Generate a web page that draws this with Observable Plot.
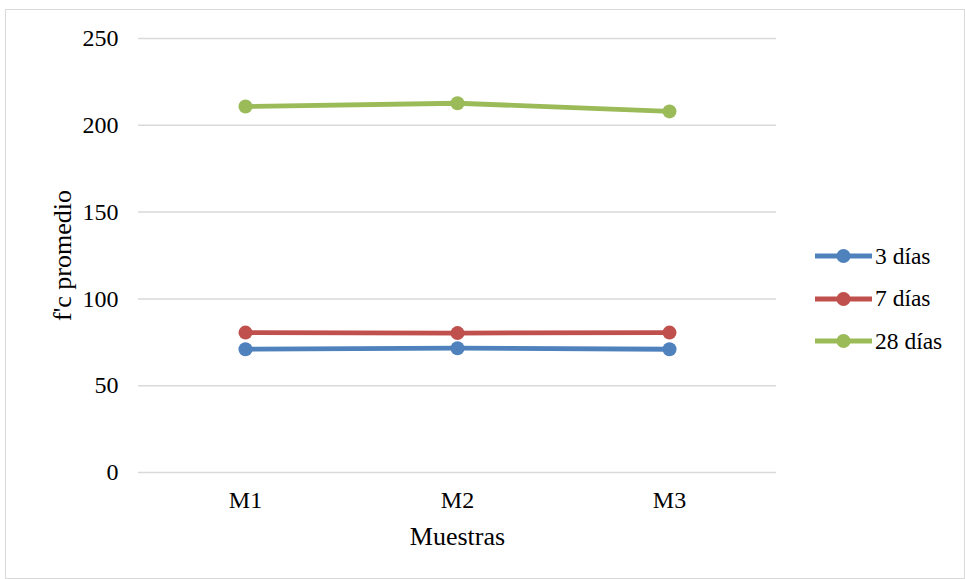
<!DOCTYPE html>
<html>
<head>
<meta charset="utf-8">
<script src="https://cdn.jsdelivr.net/npm/d3@7"></script>
<script src="https://cdn.jsdelivr.net/npm/@observablehq/plot@0.6"></script>
<style>
  html, body { margin: 0; padding: 0; background: #fff; }
  #wrap { position: relative; width: 965px; height: 579px; font-family: "Liberation Serif", "Times New Roman", serif; }
  #frame { position: absolute; left: 5px; top: 9px; width: 958px; height: 568px; border: 1px solid #d9d9d9; }
  #chart { position: absolute; left: 0; top: 0; }
  #legend { position: absolute; left: 815px; top: 235px; font-size: 23.5px; color: #000; }
  .item { display: flex; align-items: center; height: 42.5px; }
  .item svg { margin-right: 2px; }
</style>
</head>
<body>
<div id="wrap">
  <div id="frame"></div>
  <div id="chart"></div>
  <div id="legend"></div>
</div>
<script>
// Muestras y resistencia promedio f'c por edad de curado
const muestras = ["M1", "M2", "M3"];
const series = ["3 días", "7 días", "28 días"];
const colores = ["#4f81bd", "#c0504d", "#9bbb59"];
const fc3 = [71.0, 71.6, 71.0];
const fc7 = [80.6, 80.3, 80.6];
const fc28 = [210.8, 212.7, 208.0];
const yTicks = [0, 50, 100, 150, 200, 250];

const valores = [fc3, fc7, fc28];
const datos = [];
series.forEach((s, i) => muestras.forEach((m, j) => datos.push({serie: s, muestra: m, fc: valores[i][j]})));

const font = "Liberation Serif, Times New Roman, serif";
const fs = 24;   // etiquetas de los ejes
const fsT = 26;  // títulos de los ejes

const chart = Plot.plot({
  width: 965,
  height: 579,
  marginLeft: 138,
  marginRight: 189,
  marginTop: 38,
  marginBottom: 107,
  style: {fontFamily: font, fontSize: fs + "px", color: "#000", background: "transparent"},
  x: {type: "point", domain: muestras, padding: 0.5},
  y: {domain: [0, 250]},
  color: {domain: series, range: colores},
  marks: [
    Plot.gridY(yTicks, {stroke: "#d9d9d9", strokeOpacity: 1, strokeWidth: 1.5}),
    Plot.axisY(yTicks, {tickSize: 0, tickPadding: 20, label: null, fontSize: fs}),
    Plot.axisX({tickSize: 0, tickPadding: 18, label: null, fontSize: fs}),
    Plot.text(["f'c promedio"], {frameAnchor: "left", textAnchor: "middle", dx: -76, rotate: -90, fontSize: fsT, fill: "#000"}),
    Plot.text(["Muestras"], {frameAnchor: "bottom", textAnchor: "middle", dy: 72, fontSize: fsT, fill: "#000"}),
    Plot.line(datos, {x: "muestra", y: "fc", z: "serie", stroke: "serie", strokeWidth: 4.8}),
    Plot.dot(datos, {x: "muestra", y: "fc", fill: "serie", r: 7})
  ]
});
document.getElementById("chart").appendChild(chart);

// Leyenda
const legend = document.getElementById("legend");
series.forEach((s, i) => {
  const item = document.createElement("div");
  item.className = "item";
  item.innerHTML = `<svg width="58" height="16"><line x1="0" x2="57" y1="8" y2="8" stroke="${colores[i]}" stroke-width="4.8"/><circle cx="28.5" cy="8" r="7" fill="${colores[i]}"/></svg><span>${s}</span>`;
  legend.appendChild(item);
});
</script>
</body>
</html>
